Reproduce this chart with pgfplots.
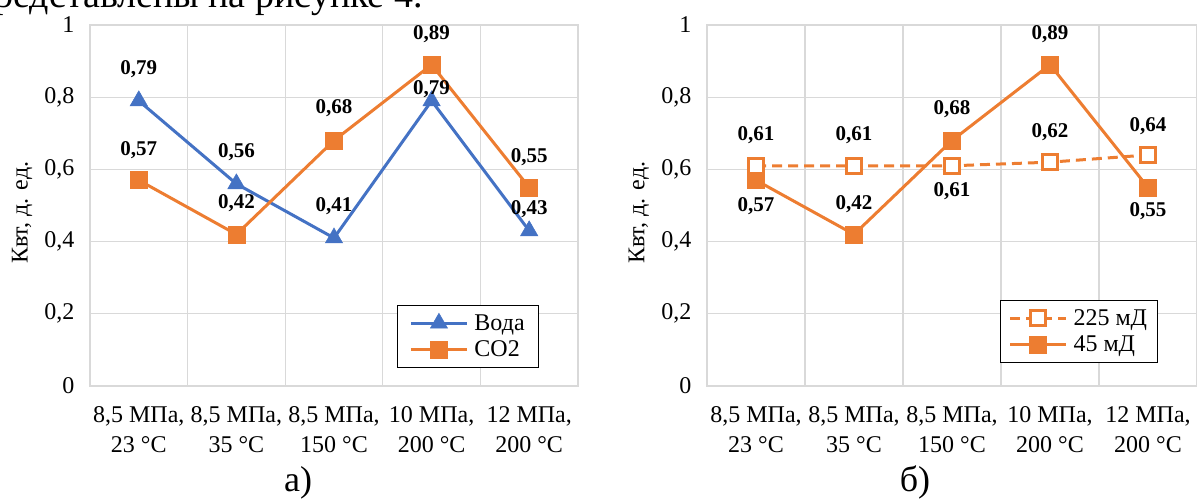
\documentclass[border=0pt]{standalone}
\usepackage{fontspec}
\setmainfont{Liberation Serif}
\usepackage{pgfplots}
\usepackage{pgfplotstable}
\pgfplotsset{compat=1.18}
\definecolor{cblue}{HTML}{4472C4}
\definecolor{corange}{HTML}{ED7D31}
\definecolor{cgrid}{HTML}{D9D9D9}

% x = category index, y = value, off = label offset (pt) from point
\pgfplotstableread{
x y off
0 0.79 32
1 0.56 32
2 0.41 32
3 0.79 12
4 0.43 22
}\tblWater
\pgfplotstableread{
x y off
0 0.57 30
1 0.42 31
2 0.68 32
3 0.89 31
4 0.55 30
}\tblCO
\pgfplotstableread{
x y off
0 0.61 31
1 0.61 31
2 0.61 -25
3 0.62 30
4 0.64 29
}\tblHigh
\pgfplotstableread{
x y off
0 0.57 -26
1 0.42 30
2 0.68 31
3 0.89 31
4 0.55 -24
}\tblLow

\pgfplotsset{
 mychart/.style={
  scale only axis, height=361pt,
  xmin=-0.5, xmax=4.5, ymin=0, ymax=1,
  xtick={0,1,2,3,4},
  xticklabels={{8,5 МПа,\\23 °C},{8,5 МПа,\\35 °C},{8,5 МПа,\\150 °C},{10 МПа,\\200 °C},{12 МПа,\\200 °C}},
  xticklabel style={align=center, font=\fontsize{24}{30}\selectfont, yshift=-17pt},
  minor xtick={0.5,1.5,2.5,3.5},
  xminorgrids,
  ytick={0,0.2,0.4,0.6,0.8,1},
  ymajorgrids,
  grid style={cgrid, line width=1.2pt},
  minor grid style={cgrid, line width=1.2pt},
  axis line style={cgrid, line width=1.2pt},
  major tick length=0pt, minor tick length=0pt,
  tick style={draw=none},
  /pgf/number format/assume math mode=true,
  /pgf/number format/use comma,
  yticklabel style={font=\fontsize{24}{28}\selectfont, xshift=-12pt},
  ylabel={Квт, д. ед.},
  every axis y label/.style={at={(axis description cs:-0.139,0.48)}, rotate=90, anchor=center, font=\fontsize{24}{28}\selectfont},
  legend style={font=\fontsize{24}{28}\selectfont, draw=black, line width=1pt, fill=white, inner xsep=12pt, inner ysep=7pt, row sep=5pt, column sep=4pt},
  legend cell align=left,
  legend image code/.code={\draw[mark repeat=2,mark phase=2,##1] plot coordinates {(0pt,0pt) (28pt,0pt) (56pt,0pt)};},
  nodes near coords={\pgfmathprintnumber[fixed,precision=2,use comma,assume math mode=true]{\pgfplotspointmeta}},
  point meta=y,
  visualization depends on={\thisrow{off}\as\lbloff},
  every node near coord/.append style={font=\fontsize{21}{25}\selectfont\bfseries, anchor=center, text=black, yshift=\lbloff pt},
  clip=false,
 }
}

\begin{document}
\begin{tikzpicture}
\useasboundingbox (0pt,0pt) rectangle (1197pt,500pt);
\begin{scope}
\clip (0pt,0pt) rectangle (1197pt,500pt);
\node[anchor=base east, font=\fontsize{38}{44}\selectfont, inner sep=0pt] at (423pt,492pt) {представлены на рисунке 4.};
\end{scope}

\begin{axis}[mychart, width=488pt, at={(90pt,114pt)}, anchor=south west,
  legend style={at={(0.629,0.224)}, anchor=north west}]
\addplot[cblue, line width=3pt, mark=triangle*, mark size=10pt, mark options={fill=cblue, draw=cblue, line width=0.5pt}] table[x=x,y=y]{\tblWater};
\addlegendentry{Вода}
\addplot[corange, line width=3pt, mark=square*, mark size=8.5pt, mark options={fill=corange, draw=corange, line width=0.5pt}] table[x=x,y=y]{\tblCO};
\addlegendentry{CO2}
\end{axis}
\node[font=\fontsize{36}{42}\selectfont, anchor=base] at (298pt,8pt) {а)};

\begin{axis}[mychart, width=490pt, at={(707pt,114pt)}, anchor=south west,
  legend style={at={(0.598,0.238)}, anchor=north west, inner xsep=8pt}, reverse legend]
\addplot[corange, line width=3pt, mark=square*, mark size=8.5pt, mark options={fill=corange, draw=corange, line width=0.5pt}] table[x=x,y=y]{\tblLow};
\addlegendentry{45 мД}
\addplot[corange, line width=3pt, dash pattern=on 10pt off 6pt, mark=square*, mark size=7.5pt, mark options={solid, fill=white, draw=corange, line width=3pt}] table[x=x,y=y]{\tblHigh};
\addlegendentry{225 мД}
\end{axis}
\node[font=\fontsize{36}{42}\selectfont, anchor=base] at (915pt,8pt) {б)};
\end{tikzpicture}
\end{document}
